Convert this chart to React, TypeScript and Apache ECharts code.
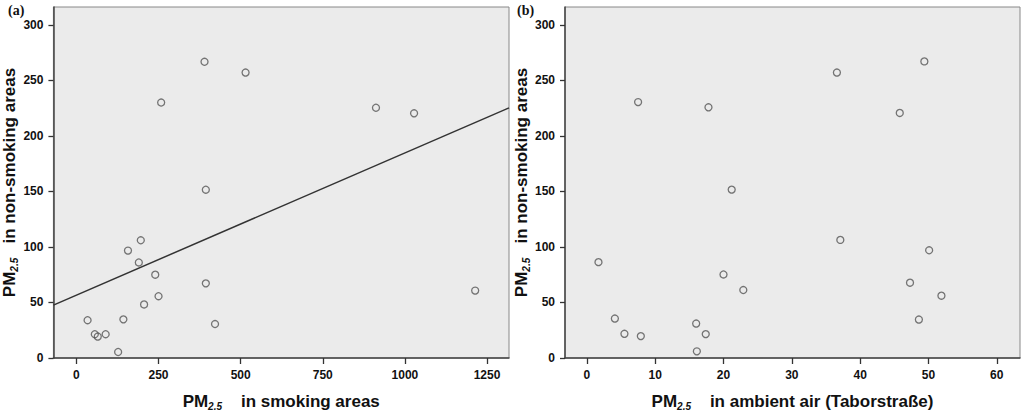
import React, { useEffect, useRef } from "react";
import * as echarts from "echarts";

// Panel (a): PM2.5 in smoking areas vs non-smoking areas
const smokingX = [390, 515, 258, 394, 912, 1028, 34, 56, 65, 89, 127, 143, 157, 190, 196, 206, 240, 250, 394, 422, 1214];
const nonSmokingA = [266.7, 257, 230, 151.5, 225.3, 220.3, 34, 21.4, 19.3, 21.4, 5.4, 34.8, 96.7, 86, 106, 48.2, 75, 55.6, 67.2, 30.6, 60.7];
// Panel (b): PM2.5 in ambient air vs non-smoking areas
const ambientX = [7.5, 17.8, 21.2, 49.4, 36.6, 45.8, 1.7, 4.1, 5.5, 7.9, 16.0, 17.4, 16.1, 20.0, 22.9, 37.1, 50.1, 47.3, 51.9, 48.6];
const nonSmokingB = [230.4, 225.7, 151.6, 267, 257, 220.6, 86.3, 35.5, 21.8, 19.7, 31, 21.5, 6, 75.2, 61.2, 106.3, 97, 67.8, 56.1, 34.6];
// Fit line in (a)
const fitIntercept = 56.6;
const fitSlope = 0.128;

const xTicksA = [0, 250, 500, 750, 1000, 1250];
const xTicksB = [0, 10, 20, 30, 40, 50, 60];
const yTicks = [0, 50, 100, 150, 200, 250, 300];

const xRangeA = [-70, 1317];
const xRangeB = [-3.2, 63.4];
const yRange = [0, 316];

const labelFont = {
  fontFamily: "Liberation Sans, Arial, sans-serif",
  fontWeight: "bold" as const,
  fontSize: 12,
  color: "#111",
};

const nameRich = {
  b: { fontFamily: "Liberation Sans, Arial, sans-serif", fontWeight: "bold", fontSize: 17, color: "#111", lineHeight: 20 },
  s: { fontFamily: "Liberation Sans, Arial, sans-serif", fontWeight: "bold", fontStyle: "italic", fontSize: 10, color: "#111", lineHeight: 20, verticalAlign: "bottom", padding: [8, 0, 0, 0] },
};

function xAxis(gridIndex: number, range: number[], ticks: number[], name: string) {
  return {
    type: "value",
    gridIndex,
    min: range[0],
    max: range[1],
    name,
    nameLocation: "middle",
    nameGap: 33,
    nameTextStyle: { rich: nameRich },
    splitLine: { show: false },
    axisLine: { show: true, onZero: false, lineStyle: { color: "#444", width: 1.5 } },
    axisTick: { show: true, length: 6, customValues: ticks, lineStyle: { color: "#333", width: 1.3 } },
    axisLabel: { ...labelFont, margin: 11, customValues: ticks, formatter: (v: number) => String(v) },
  };
}

function yAxis(gridIndex: number, name: string) {
  return {
    type: "value",
    gridIndex,
    min: yRange[0],
    max: yRange[1],
    name,
    nameLocation: "middle",
    nameGap: 30,
    nameTextStyle: { rich: nameRich },
    splitLine: { show: false },
    axisLine: { show: true, onZero: false, lineStyle: { color: "#444", width: 1.5 } },
    axisTick: { show: true, length: 5, customValues: yTicks, lineStyle: { color: "#333", width: 1.3 } },
    axisLabel: { ...labelFont, margin: 10, customValues: yTicks, formatter: (v: number) => String(v) },
  };
}

const pointStyle = {
  symbol: "circle",
  symbolSize: 7,
  itemStyle: { color: "rgba(0,0,0,0)", borderColor: "#555", borderWidth: 1.3 },
};

export default function App() {
  const ref = useRef<HTMLDivElement>(null);
  useEffect(() => {
    if (!ref.current) return;
    const chart = echarts.init(ref.current, null, { renderer: "svg" });
    const yName = "{b|PM}{s|2.5}{b|   in non-smoking areas}";
    chart.setOption({
      animation: false,
      backgroundColor: "#fff",
      grid: [
        { left: 53, top: 7, width: 456, height: 354, show: true, backgroundColor: "#ebebeb", borderColor: "#888", borderWidth: 1 },
        { left: 565, top: 7, width: 455, height: 353, show: true, backgroundColor: "#ebebeb", borderColor: "#888", borderWidth: 1 },
      ],
      xAxis: [
        xAxis(0, xRangeA, xTicksA, "{b|PM}{s|2.5}{b|    in smoking areas}"),
        xAxis(1, xRangeB, xTicksB, "{b|PM}{s|2.5}{b|    in ambient air (Taborstraße)}"),
      ],
      yAxis: [yAxis(0, yName), yAxis(1, yName)],
      graphic: [
        { type: "text", left: 8, top: 3, style: { text: "(a)", font: "bold 14px 'Liberation Serif', 'Times New Roman', serif", fill: "#111" } },
        { type: "text", left: 517, top: 3, style: { text: "(b)", font: "bold 14px 'Liberation Serif', 'Times New Roman', serif", fill: "#111" } },
      ],
      series: [
        {
          type: "line",
          xAxisIndex: 0,
          yAxisIndex: 0,
          data: [
            [xRangeA[0], fitIntercept + fitSlope * xRangeA[0]],
            [xRangeA[1], fitIntercept + fitSlope * xRangeA[1]],
          ],
          showSymbol: false,
          symbol: "none",
          lineStyle: { color: "#333", width: 1.5 },
          z: 2,
        },
        {
          type: "scatter",
          xAxisIndex: 0,
          yAxisIndex: 0,
          data: smokingX.map((x, i) => [x, nonSmokingA[i]]),
          ...pointStyle,
          z: 3,
        },
        {
          type: "scatter",
          xAxisIndex: 1,
          yAxisIndex: 1,
          data: ambientX.map((x, i) => [x, nonSmokingB[i]]),
          ...pointStyle,
          z: 3,
        },
      ],
    });
    return () => chart.dispose();
  }, []);
  return <div ref={ref} style={{ position: "fixed", left: 0, top: 0, width: 1024, height: 416 }} />;
}
